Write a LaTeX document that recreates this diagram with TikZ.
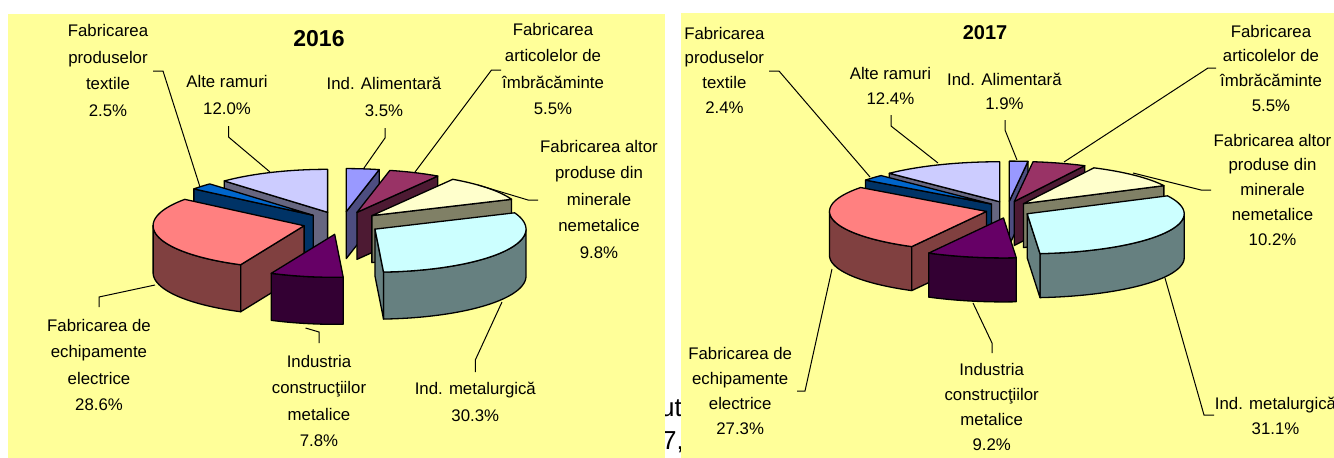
\documentclass[tikz,border=0pt]{standalone}
\usepackage{fontspec}
\setmainfont{Liberation Sans}
\definecolor{panel}{HTML}{FFFF99}
\definecolor{ta}{HTML}{9999FF}\definecolor{sa}{HTML}{4D4D80}
\definecolor{tb}{HTML}{993366}\definecolor{sb}{HTML}{4D1A33}
\definecolor{tc}{HTML}{FFFFCC}\definecolor{sc}{HTML}{808066}
\definecolor{td}{HTML}{CCFFFF}\definecolor{sd}{HTML}{668080}
\definecolor{te}{HTML}{660066}\definecolor{se}{HTML}{330033}
\definecolor{tf}{HTML}{FF8080}\definecolor{sf}{HTML}{804040}
\definecolor{tg}{HTML}{0066CC}\definecolor{sg}{HTML}{003366}
\definecolor{th}{HTML}{CCCCFF}\definecolor{sh}{HTML}{666680}
\newcommand\pieset[7]{\def\ppcx{#1}\def\ppcy{#2}\def\pprx{#3}\def\ppry{#4}\def\pph{#5}\def\ppex{#6}\def\ppey{#7}}
\newcommand\apex[2]{\pgfmathsetmacro\ppmid{(#1+#2)/2}%
  \pgfmathsetmacro\ppax{\ppcx+\ppex*cos(\ppmid)}%
  \pgfmathsetmacro\ppay{\ppcy-\ppey*sin(\ppmid)}}
\newcommand\topface[3]{\filldraw[fill=#3,pieline] (\ppax,\ppay) -- plot[domain=#1:#2,samples=60] ({\ppax+\pprx*cos(\x)},{\ppay-\ppry*sin(\x)}) -- cycle;}
\newcommand\radface[2]{\filldraw[fill=#2,pieline] (\ppax,\ppay) -- ({\ppax+\pprx*cos(#1)},{\ppay-\ppry*sin(#1)}) -- ({\ppax+\pprx*cos(#1)},{\ppay-\ppry*sin(#1)+\pph}) -- (\ppax,{\ppay+\pph}) -- cycle;}
\newcommand\outface[3]{\filldraw[fill=#3,pieline] plot[domain=#1:#2,samples=60] ({\ppax+\pprx*cos(\x)},{\ppay-\ppry*sin(\x)}) -- plot[domain=#2:#1,samples=60] ({\ppax+\pprx*cos(\x)},{\ppay-\ppry*sin(\x)+\pph}) -- cycle;}
\begin{document}
\begin{tikzpicture}[x=1pt,y=-1pt,
  pieline/.style={draw=black,line width=1.3pt,line join=round},
  leader/.style={draw=black,line width=1pt},
  labA/.style={align=center,inner sep=0pt,font=\fontsize{16.8}{26.5}\selectfont},
  labB/.style={align=center,inner sep=0pt,font=\fontsize{16.8}{24.8}\selectfont},
  frag/.style={anchor=base west,inner sep=0pt,font=\fontsize{26}{26}\selectfont}]
\useasboundingbox (0,0) rectangle (1334,458);
\fill[white] (0,0) rectangle (1334,458);
\node[frag] (fragA) at (660,416) {ut};
\node[frag] (fragB) at (662,449) {7,};
\fill[panel] (8,14) rectangle (665,458);
\fill[panel] (681,13) rectangle (1334,458);

% ---------- 2016 ----------
\pieset{342}{223}{151}{43}{47}{39}{11.5}
\apex{77.4}{90}\radface{77.4}{sa}\topface{77.4}{90}{ta}
\apex{90}{133.2}\radface{133.2}{sh}\topface{90}{133.2}{th}
\apex{57.6}{77.4}\radface{57.6}{sb}\topface{57.6}{77.4}{tb}
\apex{133.2}{142.2}\radface{142.2}{sg}\topface{133.2}{142.2}{tg}
\apex{22.32}{57.6}\radface{22.32}{sc}\topface{22.32}{57.6}{tc}
\apex{142.2}{245.16}\outface{180}{245.16}{sf}\radface{245.16}{sf}\topface{142.2}{245.16}{tf}
\apex{-86.76}{22.32}\outface{-86.76}{0}{sd}\radface{-86.76}{sd}\topface{-86.76}{22.32}{td}
\apex{245.16}{273.24}\outface{245.16}{273.24}{se}\topface{245.16}{273.24}{te}

\node[inner sep=0pt,font=\bfseries\fontsize{23}{23}\selectfont] (title16) at (319,39) {2016};
\node[labA] (tex16) at (108,70.3) {Fabricarea\\produselor\\textile\\2.5\%};
\node[labA] (alt16) at (227,95) {Alte ramuri\\12.0\%};
\node[labA] (ali16) at (384,96.7) {Ind. Alimentară\\3.5\%};
\node[labA] (imb16) at (553,69) {Fabricarea\\articolelor de\\îmbrăcăminte\\5.5\%};
\node[labA] (min16) at (599,199.3) {Fabricarea altor\\produse din\\minerale\\nemetalice\\9.8\%};
\node[labA] (ech16) at (99,365) {Fabricarea de\\echipamente\\electrice\\28.6\%};
\node[labA] (con16) at (319,401) {Industria\\construcţiilor\\metalice\\7.8\%};
\node[labA] (met16) at (475.3,401.7) {Ind. metalurgică\\30.3\%};

\coordinate (a1) at (153,71);\coordinate (a2) at (163,71);\coordinate (a3) at (200,187);
\coordinate (b1) at (228.5,126);\coordinate (b2) at (228.5,137);\coordinate (b3) at (270,172);
\coordinate (c1) at (385,128);\coordinate (c2) at (385,138);\coordinate (c3) at (364,168);
\coordinate (d1) at (501,70);\coordinate (d2) at (491.5,70);\coordinate (d3) at (415,172);
\coordinate (e1) at (538,200);\coordinate (e2) at (528,200);\coordinate (e3) at (478,185);
\coordinate (f1) at (99,307);\coordinate (f2) at (99,297);\coordinate (f3) at (155,285);
\coordinate (g1) at (305.5,328);\coordinate (g2) at (319,332);\coordinate (g3) at (319,343);
\coordinate (h1) at (502,302);\coordinate (h2) at (475.3,360);\coordinate (h3) at (475.3,372);
\draw[leader] (a1) -- (a2) -- (a3);
\draw[leader] (b1) -- (b2) -- (b3);
\draw[leader] (c1) -- (c2) -- (c3);
\draw[leader] (d1) -- (d2) -- (d3);
\draw[leader] (e1) -- (e2) -- (e3);
\draw[leader] (f1) -- (f2) -- (f3);
\draw[leader] (g1) -- (g2) -- (g3);
\draw[leader] (h1) -- (h2) -- (h3);

% ---------- 2017 ----------
\pieset{1008}{209.6}{157}{40}{44}{22}{8.5}
\apex{83.16}{90}\radface{83.16}{sa}\topface{83.16}{90}{ta}
\apex{63.36}{83.16}\radface{63.36}{sb}\topface{63.36}{83.16}{tb}
\apex{90}{134.64}\radface{134.64}{sh}\topface{90}{134.64}{th}
\apex{26.64}{63.36}\radface{26.64}{sc}\topface{26.64}{63.36}{tc}
\apex{134.64}{143.28}\radface{143.28}{sg}\topface{134.64}{143.28}{tg}
\apex{143.28}{241.56}\outface{180}{241.56}{sf}\radface{241.56}{sf}\topface{143.28}{241.56}{tf}
\apex{-85.32}{26.64}\outface{-85.32}{0}{sd}\radface{-85.32}{sd}\topface{-85.32}{26.64}{td}
\apex{241.56}{274.68}\outface{241.56}{274.68}{se}\topface{241.56}{274.68}{te}

\node[inner sep=0pt,font=\bfseries\fontsize{20}{20}\selectfont] (title17) at (985,32.3) {2017};
\node[labB] (tex17) at (724.4,70.3) {Fabricarea\\produselor\\textile\\2.4\%};
\node[labB] (alt17) at (890.4,85.8) {Alte ramuri\\12.4\%};
\node[labB] (ali17) at (1004.4,91.3) {Ind. Alimentară\\1.9\%};
\node[labB] (imb17) at (1271,68.3) {Fabricarea\\articolelor de\\îmbrăcăminte\\5.5\%};
\node[labB] (min17) at (1272.5,189.7) {Fabricarea altor\\produse din\\minerale\\nemetalice\\10.2\%};
\node[labB] (ech17) at (740.2,390.8) {Fabricarea de\\echipamente\\electrice\\27.3\%};
\node[labB] (con17) at (991.7,407) {Industria\\construcţiilor\\metalice\\9.2\%};
\node[labB] (met17) at (1275.5,415.8) {Ind. metalurgică\\31.1\%};

\coordinate (p1) at (769,71);\coordinate (p2) at (779,71);\coordinate (p3) at (870,177);
\coordinate (q1) at (891,115);\coordinate (q2) at (891,126);\coordinate (q3) at (938,163);
\coordinate (r1) at (1005,120);\coordinate (r2) at (1005,130);\coordinate (r3) at (1017,160);
\coordinate (s1) at (1216,68);\coordinate (s2) at (1208,68);\coordinate (s3) at (1064,162);
\coordinate (u1) at (1211,190);\coordinate (u2) at (1201,190);\coordinate (u3) at (1133,173);
\coordinate (v1) at (797,391);\coordinate (v2) at (805,391);\coordinate (v3) at (832,269);
\coordinate (w1) at (973,303);\coordinate (w2) at (992,343);\coordinate (w3) at (992,353);
\coordinate (z1) at (1165,278);\coordinate (z2) at (1204,415);\coordinate (z3) at (1214,415);
\draw[leader] (p1) -- (p2) -- (p3);
\draw[leader] (q1) -- (q2) -- (q3);
\draw[leader] (r1) -- (r2) -- (r3);
\draw[leader] (s1) -- (s2) -- (s3);
\draw[leader] (u1) -- (u2) -- (u3);
\draw[leader] (v1) -- (v2) -- (v3);
\draw[leader] (w1) -- (w2) -- (w3);
\draw[leader] (z1) -- (z2) -- (z3);
\end{tikzpicture}
\end{document}
